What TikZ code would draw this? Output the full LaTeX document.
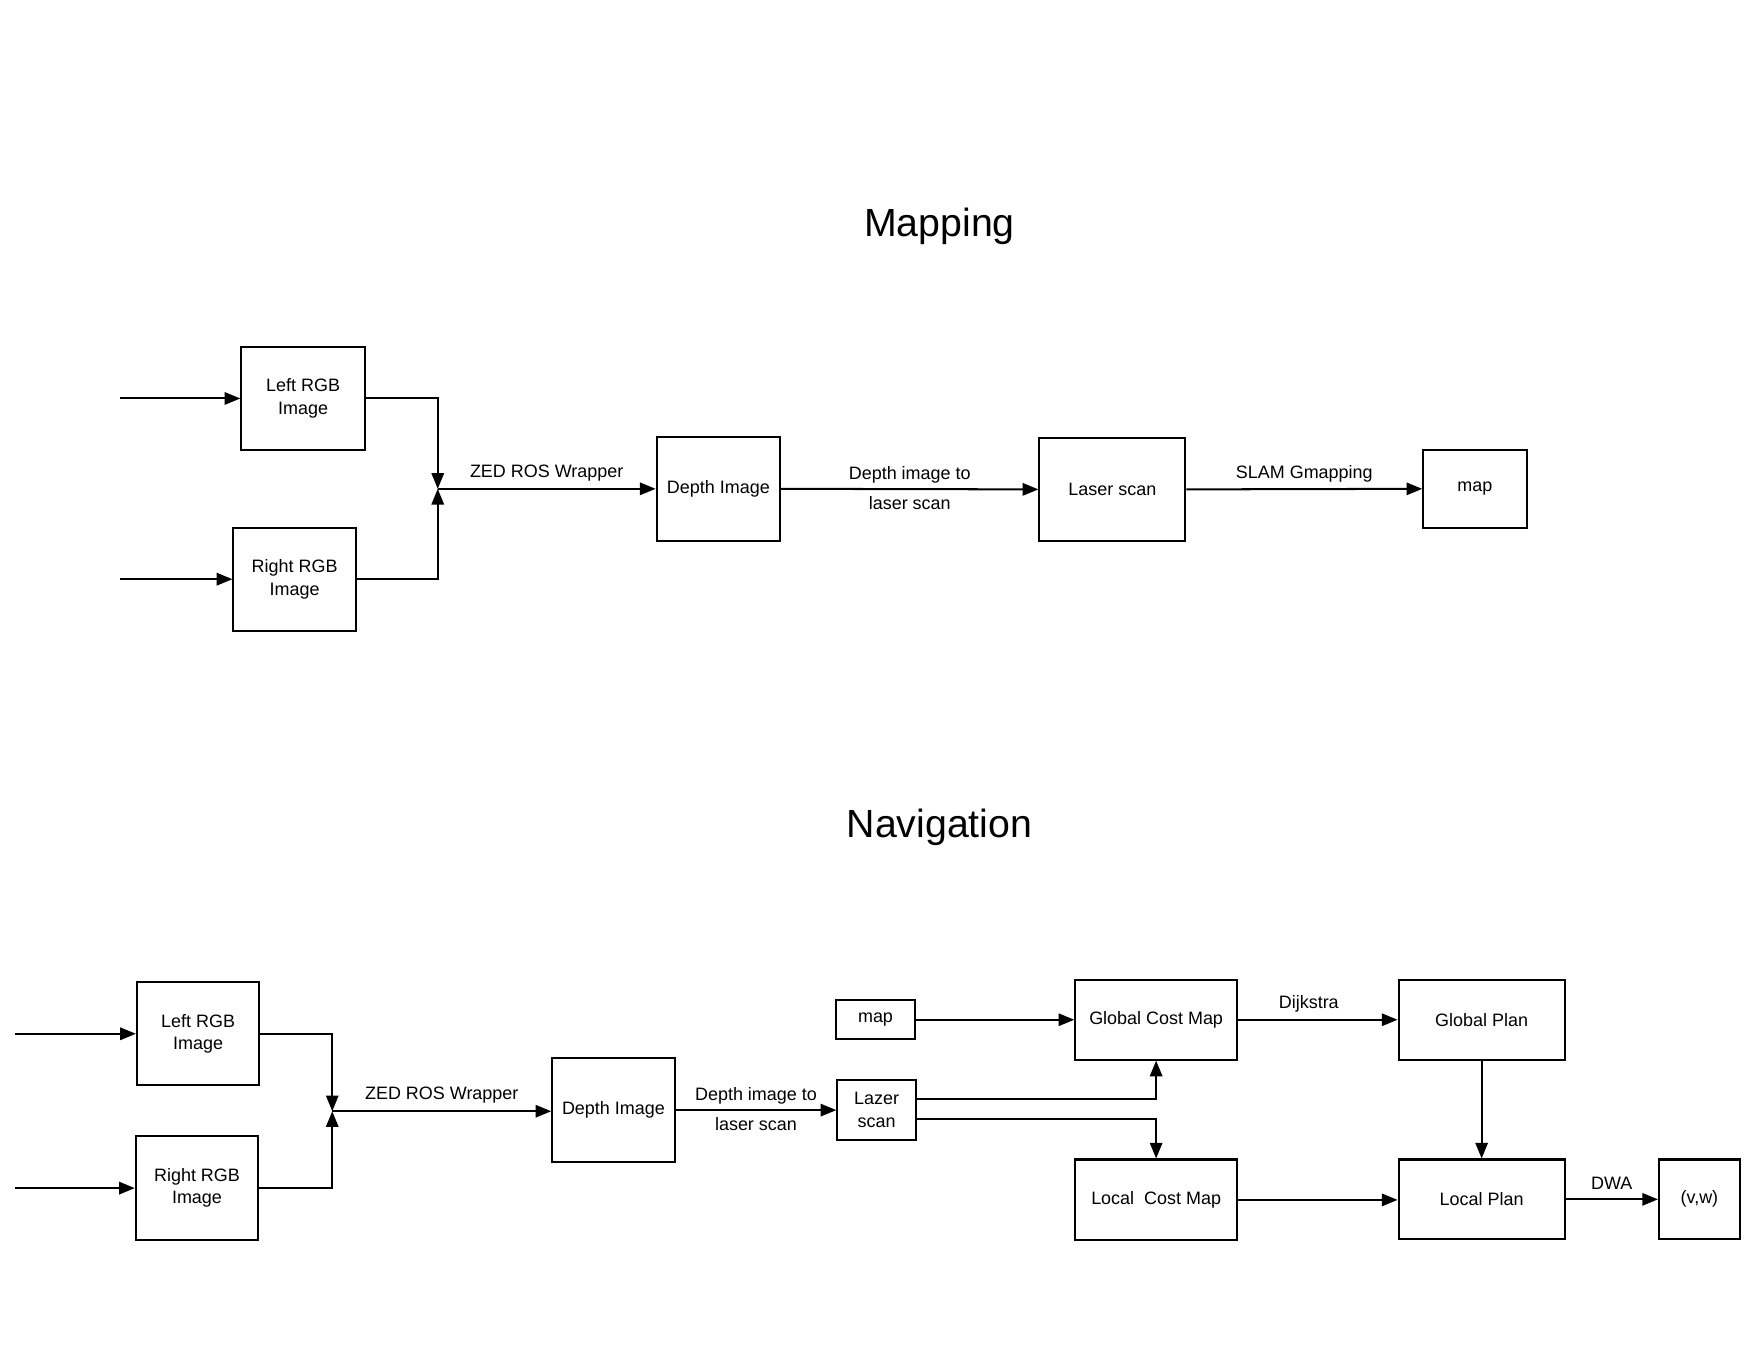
\documentclass[tikz,border=0pt]{standalone}
\usepackage{fontspec}
\setmainfont{Liberation Sans}
\usetikzlibrary{arrows.meta}
\begin{document}
\begin{tikzpicture}[x=1pt,y=-1pt,
 box/.style={draw,line width=1.8pt,inner sep=0pt,align=center,font=\fontsize{16}{20}\selectfont},
 conn/.style={line width=1.8pt,-{Triangle[length=14pt,width=11pt]}},
 lbl/.style={font=\fontsize{16}{20}\selectfont,inner sep=0pt,yshift=14pt},
 lbltwo/.style={font=\fontsize{16}{26}\selectfont,inner sep=0pt,align=center,yshift=1pt},
 ttl/.style={font=\fontsize{35}{40}\selectfont,inner sep=0pt}]
\useasboundingbox (0,0) rectangle (1568,1212);

% ---------------- Mapping ----------------
\node[ttl] (t1) at (837,202) {Mapping};
\node[box,minimum width=110pt,minimum height=92pt] (mL) at (270,355) {Left RGB\\Image};
\node[box,minimum width=109pt,minimum height=92pt] (mR) at (262.5,516) {Right RGB\\Image};
\node[box,minimum width=110pt,minimum height=93pt] (mD) at (640,435.5) {Depth Image};
\node[box,minimum width=130pt,minimum height=92pt] (mS) at (991,436) {Laser scan};
\node[box,minimum width=92pt,minimum height=69pt] (mM) at (1314,435.5) {map};
\coordinate (mInL) at (107,355);
\coordinate (mInR) at (107,516);
\coordinate (mJ) at (390,435.5);

\draw[conn] (mInL) -- (mL.west);
\draw[conn] (mInR) -- (mR.west);
\draw[conn] (mL.east) -| (mJ);
\draw[conn] (mR.east) -| (mJ);
\draw[conn] (mJ) -- (mD.west) node[lbl,midway] {ZED ROS Wrapper};
\draw[conn] (mD.east) -- (mS.west) node[lbltwo,midway] {Depth image to\\laser scan};
\draw[conn] (mS.east) -- (mM.west) node[lbl,midway] {SLAM Gmapping};

% ---------------- Navigation ----------------
\node[ttl] (t2) at (837,737) {Navigation};
\node[box,minimum width=109pt,minimum height=92pt] (nL) at (176.5,921) {Left RGB\\Image};
\node[box,minimum width=109pt,minimum height=93pt] (nR) at (175.5,1058.5) {Right RGB\\Image};
\node[box,minimum width=109pt,minimum height=92pt] (nD) at (546.5,989) {Depth Image};
\node[box,minimum width=70pt,minimum height=54pt] (nZ) at (781,989) {Lazer\\scan};
\node[box,minimum width=70pt,minimum height=35pt] (nMap) at (780,908.5) {map};
\node[box,minimum width=144pt,minimum height=71pt] (nG) at (1030,908.5) {Global Cost Map};
\node[box,minimum width=144pt,minimum height=72pt] (nLC) at (1030,1069) {Local~ Cost Map};
\node[box,minimum width=148pt,minimum height=71pt] (nGP) at (1320,908.5) {Global Plan};
\node[box,minimum width=148pt,minimum height=71pt] (nLP) at (1320,1068.5) {Local Plan};
\node[box,minimum width=72pt,minimum height=71pt] (nV) at (1514,1068.5) {(v,w)};
\coordinate (nInL) at (13,921);
\coordinate (nInR) at (13,1058.5);
\coordinate (nJ) at (296,990);

\draw[conn] (nInL) -- (nL.west);
\draw[conn] (nInR) -- (nR.west);
\draw[conn] (nL.east) -| (nJ);
\draw[conn] (nR.east) -| (nJ);
\draw[conn] (nJ) -- (nD.west |- nJ) node[lbl,midway] {ZED ROS Wrapper};
\draw[conn] (nD.east) -- (nZ.west) node[lbltwo,midway] {Depth image to\\laser scan};
\draw[conn] (nMap.east) -- (nG.west);
\draw[conn] ([yshift=10pt]nZ.east) -| (nG.south);
\draw[conn] ([yshift=-8pt]nZ.east) -| (nLC.north);
\draw[conn] (nG.east) -- (nGP.west) node[lbl,midway,xshift=-8pt] {Dijkstra};
\draw[conn] (nGP.south) -- (nLP.north);
\draw[conn] (nLC.east) -- (nLP.west |- nLC.east);
\draw[conn] (nLP.east) -- (nV.west) node[lbl,midway] {DWA};
\end{tikzpicture}
\end{document}
